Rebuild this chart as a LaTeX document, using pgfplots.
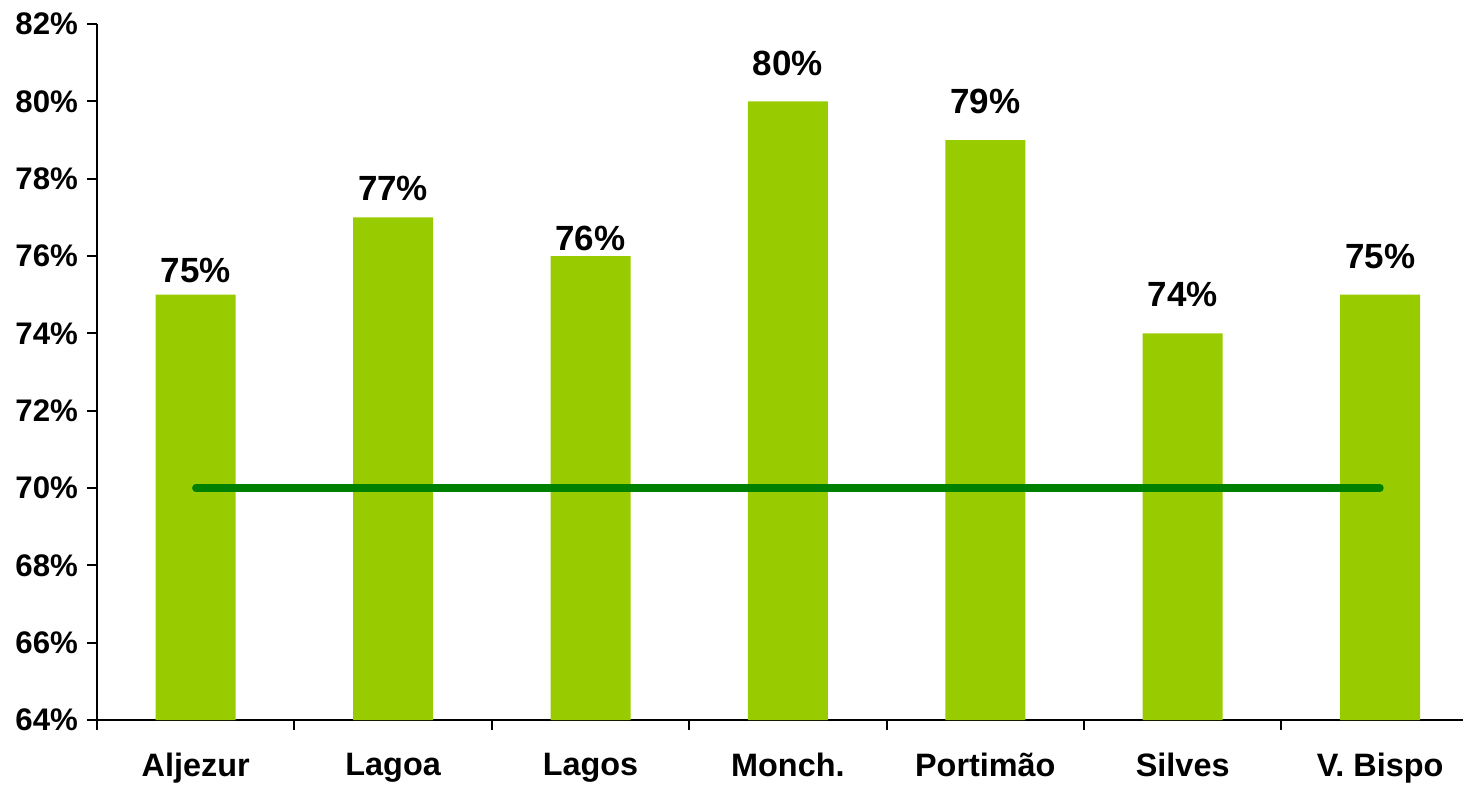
\documentclass[border=0pt]{standalone}
\usepackage{pgfplots}
\usepackage{pgfplotstable}
\pgfplotsset{compat=1.18}
\usepackage{fontspec}
\setmainfont{Liberation Sans}
\definecolor{barg}{RGB}{153,204,0}
\definecolor{lineg}{RGB}{0,128,0}
\pgfplotstableread{
x y off
0 75 6
1 77 8.5
2 76 3
3 80 13
4 79 13.5
5 74 13.5
6 75 13
}\bars
\begin{document}
\begin{tikzpicture}
\begin{axis}[
  name=ax,
  at={(0,0)}, anchor=south west,
  scale only axis,
  width=683pt, height=348pt,
  xmin=-0.5, xmax=6.42,
  ymin=64, ymax=82,
  axis x line=bottom, axis y line=left,
  axis line style={-, line width=1pt},
  xtick={0,1,2,3,4,5,6},
  xticklabels={Aljezur,Lagoa,Lagos,Monch.,Portimão,Silves,V. Bispo},
  minor xtick={-0.5,0.5,1.5,2.5,3.5,4.5,5.5},
  major x tick style={draw=none},
  minor x tick style={line width=1pt, black},
  minor tick length=5pt,
  ytick={64,66,...,82},
  y tick style={line width=1pt, black},
  major tick length=5pt,
  tick align=outside,
  yticklabel={\pgfmathprintnumber{\tick}\%},
  /pgf/number format/assume math mode=true,
  yticklabel style={font=\bfseries\fontsize{15.6}{16}\selectfont, xshift=-1pt},
  xticklabel style={font=\bfseries\fontsize{16.2}{16}\selectfont, yshift=-8pt},
  clip=false,
]
\addplot[ybar, bar width=40pt, fill=barg, draw=none,
  visualization depends on={\thisrow{off} \as \off},
  nodes near coords={\pgfmathprintnumber{\pgfplotspointmeta}\%},
  every node near coord/.append style={font=\bfseries\fontsize{17.5}{18}\selectfont, anchor=base, yshift=\off pt, inner sep=0pt}]
  table[x=x, y=y] {\bars};
\addplot[sharp plot, draw=lineg, line width=3.6pt, line cap=round, no marks] coordinates {(0,70) (6,70)};
\end{axis}
\pgfresetboundingbox
\path[use as bounding box] (-48.5pt,-32pt) rectangle (683pt,360pt);
\end{tikzpicture}
\end{document}
